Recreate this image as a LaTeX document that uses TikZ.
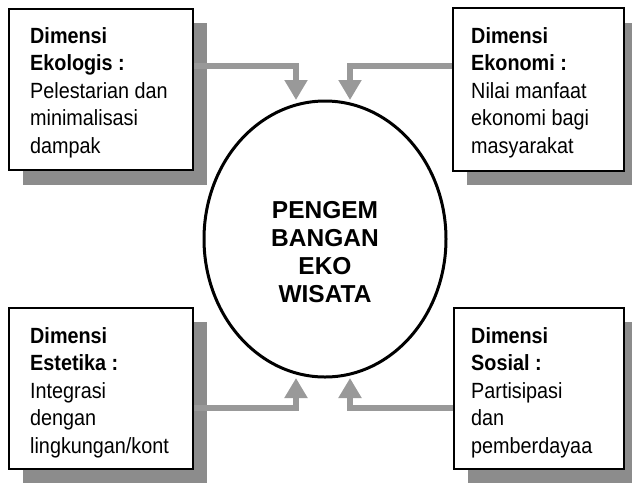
\documentclass[tikz,border=0pt]{standalone}
\usepackage{fontspec}
\setmainfont{Liberation Sans}
\newfontfamily\narrowfont[FakeStretch=0.9]{Liberation Sans}
\usetikzlibrary{arrows.meta,calc,shapes.geometric}
\definecolor{shadowgray}{RGB}{140,140,140}
\definecolor{arrowgray}{RGB}{153,153,153}
\tikzset{
  dimbox/.style={draw=black, line width=2pt, fill=white, inner sep=0pt},
  dimshadow/.style={fill=shadowgray, draw=none},
  dimtext/.style={inner sep=0pt, align=left, anchor=north west,
    font=\narrowfont\fontsize{22}{27.6}\selectfont},
  centertext/.style={inner sep=0pt, align=center, anchor=north,
    font=\fontsize{24.5}{28}\selectfont\bfseries},
  grayarrow/.style={draw=arrowgray, line width=6.5pt, line join=miter,
    -{Triangle[width=22pt,length=20pt]}, arrowgray},
}
\begin{document}
\begin{tikzpicture}[x=1pt,y=-1pt]
\useasboundingbox (0,0) rectangle (632,483);
% shadows
\fill[dimshadow] (23,23) rectangle (207,185);
\fill[dimshadow] (467,23) rectangle (638,185);
\fill[dimshadow] (23,322) rectangle (207,483);
\fill[dimshadow] (468,322) rectangle (638,483);
% boxes
\node[dimbox, minimum width=184pt, minimum height=161pt] (eko) at (101,89.5) {};
\node[dimbox, minimum width=171pt, minimum height=163pt] (eon) at (538.5,89.5) {};
\node[dimbox, minimum width=184pt, minimum height=161pt] (est) at (101,388.5) {};
\node[dimbox, minimum width=170pt, minimum height=161pt] (sos) at (539,388.5) {};
% box texts
\node[dimtext] (ekot) at (30,27) {\textbf{Dimensi}\\\textbf{Ekologis :}\\Pelestarian dan\\minimalisasi\\dampak};
\node[dimtext] (eont) at (471,27) {\textbf{Dimensi}\\\textbf{Ekonomi :}\\Nilai manfaat\\ekonomi bagi\\masyarakat};
\node[dimtext] (estt) at (30,327) {\textbf{Dimensi}\\\textbf{Estetika :}\\Integrasi\\dengan\\lingkungan/kont};
\node[dimtext] (sost) at (471,327) {\textbf{Dimensi}\\\textbf{Sosial :}\\Partisipasi\\dan\\pemberdayaa};
% ellipse
\node[draw=black, line width=3pt, ellipse, minimum width=242pt, minimum height=276pt, inner sep=0pt] (ell) at (325,239) {};
\node[centertext] (ellt) at (325,201.5) {PENGEM\\BANGAN\\EKO\\WISATA};
% arrow end points
\coordinate (tipA) at (296,100);
\coordinate (tipB) at (350,100);
\coordinate (tipC) at (296,378);
\coordinate (tipD) at (350,378);
\draw[grayarrow] (eko.east |- 0,66) -| (tipA);
\draw[grayarrow] (eon.west |- 0,66) -| (tipB);
\draw[grayarrow] (est.east |- 0,408) -| (tipC);
\draw[grayarrow] (sos.west |- 0,408) -| (tipD);
\end{tikzpicture}
\end{document}
